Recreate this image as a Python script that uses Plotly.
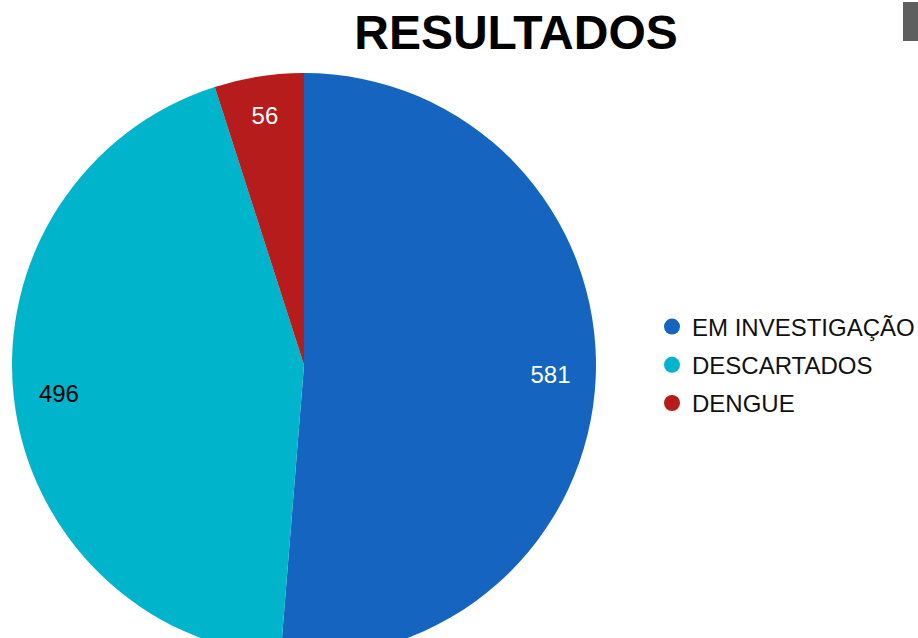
"""Pie chart of case results (RESULTADOS)."""
import plotly.graph_objects as go

labels = ["EM INVESTIGAÇÃO", "DESCARTADOS", "DENGUE"]
values = [581, 496, 56]
colors = ["#1565C0", "#00B5CB", "#B71C1C"]
text_colors = ["white", "black", "white"]

FIG_W = 918
FIG_H = 680
FONT = "Liberation Sans, Arial, sans-serif"

# pie geometry in page pixels (left, top, size); the bottom runs off the page
PIE_LEFT, PIE_TOP, PIE_SIZE = 12, 73, 584
pie_domain = {
    "x": [PIE_LEFT / FIG_W, (PIE_LEFT + PIE_SIZE) / FIG_W],
    "y": [1 - (PIE_TOP + PIE_SIZE) / FIG_H, 1 - PIE_TOP / FIG_H],
}

fig = go.Figure()
# coloured slices
fig.add_trace(
    go.Pie(
        labels=labels,
        values=values,
        sort=False,
        direction="clockwise",
        rotation=0,
        marker={"colors": colors, "line": {"width": 0}},
        textinfo="none",
        showlegend=False,
        domain=pie_domain,
        hoverinfo="label+value+percent",
    )
)
# transparent ring on top, only to put the values near the rim
fig.add_trace(
    go.Pie(
        labels=labels,
        values=values,
        sort=False,
        direction="clockwise",
        rotation=0,
        hole=0.69,
        marker={"colors": ["rgba(0,0,0,0)"] * len(values), "line": {"width": 0}},
        textinfo="value",
        textposition="inside",
        insidetextorientation="horizontal",
        textfont={"family": FONT, "size": 24, "color": text_colors},
        showlegend=False,
        domain=pie_domain,
        hoverinfo="skip",
    )
)

# legend entries with round markers
for label, colour in zip(labels, colors):
    fig.add_trace(
        go.Scatter(
            x=[None],
            y=[None],
            mode="markers",
            name=label,
            legendgroup=label,
            marker={"color": colour, "size": 24, "symbol": "circle"},
            showlegend=True,
        )
    )

# small grey bar in the top right corner
fig.add_shape(
    type="rect",
    xref="paper",
    yref="paper",
    x0=903 / FIG_W,
    x1=1,
    y0=1 - 41 / FIG_H,
    y1=1 - 2 / FIG_H,
    fillcolor="#5f5f5f",
    line={"width": 0},
)

fig.update_layout(
    width=FIG_W,
    height=FIG_H,
    # keep the legend from pushing the margins (and the pie) around
    margin={"l": 0, "r": 0, "t": 0, "b": 0, "autoexpand": False},
    paper_bgcolor="white",
    plot_bgcolor="white",
    font={"family": FONT, "color": "black"},
    title={
        "text": "<b>RESULTADOS</b>",
        "x": 516 / FIG_W,
        "xanchor": "center",
        "y": 1 - 32 / FIG_H,
        "yanchor": "middle",
        "font": {"family": FONT, "size": 48, "color": "black"},
    },
    legend={
        "x": 652 / FIG_W,
        "xanchor": "left",
        "y": 1 - 365 / FIG_H,
        "yanchor": "middle",
        "font": {"family": FONT, "size": 24, "color": "#111111"},
        "itemsizing": "trace",
        "tracegroupgap": 4,
        "bgcolor": "rgba(0,0,0,0)",
    },
    xaxis={"visible": False},
    yaxis={"visible": False},
)

# figure flush with the page corner, overflow clipped without scrollbars
fig.write_html(
    "out.html",
    config={"displayModeBar": False},
    post_script=(
        "document.body.style.margin='0';"
        "document.body.style.overflow='hidden';"
        "document.documentElement.style.overflow='hidden';"
    ),
)
